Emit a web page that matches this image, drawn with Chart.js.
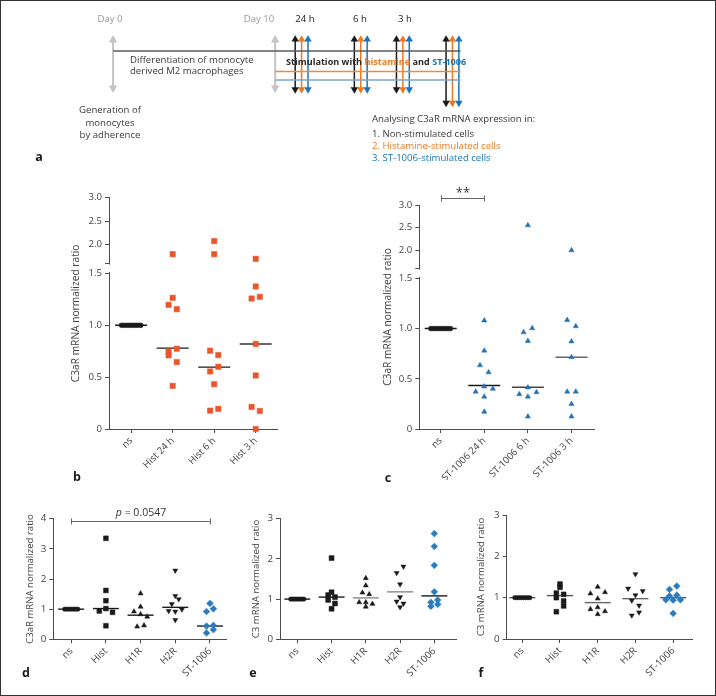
<!DOCTYPE html>
<html>
<head>
<meta charset="utf-8">
<script src="https://cdn.jsdelivr.net/npm/chart.js@4.4.1/dist/chart.umd.min.js"></script>
<style>
    html, body { margin: 0; padding: 0; background: #fff; }
    #fig { position: relative; width: 716px; height: 696px; overflow: hidden; font-family: "Open Sans", "DejaVu Sans", sans-serif; }
    #frame { position: absolute; left: 0; top: 0; width: 716px; height: 696px; box-sizing: border-box; border: 1.5px solid #333; pointer-events: none; }
    canvas { position: absolute; }
    .t { position: absolute; white-space: nowrap; font-size: 9.6px; color: #3a3a3a; line-height: 1; transform: translateY(-50%); }
    .c { transform: translate(-50%, -50%); text-align: center; }
    .lbl { position: absolute; font-size: 12.5px; font-weight: bold; color: #1a1a1a; line-height: 1; transform: translate(-50%, -50%); }
</style>
</head>
<body>
<div id="fig">
    <canvas id="chartA"></canvas>
    <canvas id="chartB"></canvas>
    <canvas id="chartC"></canvas>
    <canvas id="chartD"></canvas>
    <canvas id="chartE"></canvas>
    <canvas id="chartF"></canvas>

    <!-- textos del esquema (panel a) -->
    <div class="t c" style="left:110px;top:19px;color:#9a9a9a">Day 0</div>
    <div class="t c" style="left:259px;top:19px;color:#9a9a9a">Day 10</div>
    <div class="t c" style="left:305px;top:19px;color:#222">24 h</div>
    <div class="t c" style="left:360px;top:19px;color:#222">6 h</div>
    <div class="t c" style="left:405px;top:19px;color:#222">3 h</div>
    <div class="t" style="left:130px;top:59.5px">Differentiation of monocyte</div>
    <div class="t" style="left:130px;top:71px">derived M2 macrophages</div>
    <div class="t" style="left:286px;top:61.7px;font-weight:bold;font-size:9.1px;color:#2a2a2a">Stimulation with <span style="color:#ec7a24">histamine</span> and <span style="color:#1b75bc">ST-1006</span></div>
    <div class="t c" style="left:110px;top:110px">Generation of</div>
    <div class="t c" style="left:110px;top:122.7px">monocytes</div>
    <div class="t c" style="left:110px;top:135px">by adherence</div>
    <div class="t" style="left:372px;top:119px">Analysing C3aR mRNA expression in:</div>
    <div class="t" style="left:372px;top:134.3px">1. Non-stimulated cells</div>
    <div class="t" style="left:372px;top:146px;color:#ec7a24">2. Histamine-stimulated cells</div>
    <div class="t" style="left:372px;top:158.3px;color:#1b75bc">3. ST-1006-stimulated cells</div>

    <div class="lbl" style="left:39px;top:157px">a</div>
    <div class="lbl" style="left:77px;top:477px">b</div>
    <div class="lbl" style="left:388px;top:478px">c</div>
    <div class="lbl" style="left:26px;top:673px">d</div>
    <div class="lbl" style="left:253px;top:673px">e</div>
    <div class="lbl" style="left:481px;top:673px">f</div>
    <div id="frame"></div>
</div>

<script>
// ---- esquema (panel a) ----
const dayX = [109.6, 274];
const stimX = [294.3, 354.3, 397];
const analysisX = 447.3;
const lineEndX = 462;
const arrowTop = 32.3;
const stimBottom = 94;
const analysisBottom = 108.3;
const dayBottom = 93.3;
const timelineY = [49, 70.7, 79.7];

// ---- panel b: histamina, C3aR ----
const bCats = ['ns', 'Hist 24 h', 'Hist 6 h', 'Hist 3 h'];
const bNs = [[1, 1, 1, 1, 1, 1, 1, 1, 1]];
const bHist24 = [[1.79], [1.265], [1.197, 1.155], [0.748, 0.774], [0.71, 0.645], [0.416]];
const bHist6 = [[2.07], [1.79], [0.755, 0.713], [0.555, 0.6], [0.432], [0.177, 0.194]];
const bHist3 = [[1.69], [1.374], [1.258, 1.274], [0.82], [0.516], [0.213, 0.174], [0]];
const bMedian = [1, 0.78, 0.597, 0.82];
const bTicks = [0, 0.5, 1, 1.5, 1.6, 2, 2.5, 3];
const bTickLabels = ['0', '0.5', '1.0', '1.5', '', '2.0', '2.5', '3.0'];

// ---- panel c: ST-1006, C3aR ----
const cCats = ['ns', 'ST-1006 24 h', 'ST-1006 6 h', 'ST-1006 3 h'];
const cNs = [[1, 1, 1, 1, 1, 1, 1, 1, 1]];
const cSt24 = [[1.08], [0.78], [0.634, 0.564], [0.372, 0.423, 0.4], [0.322], [0.171]];
const cSt6 = [[2.55], [0.963, 1.003], [0.876], [0.413], [0.346, 0.322, 0.366], [0.124]];
const cSt3 = [[2.0], [1.084, 1.023], [0.872], [0.715], [0.372, 0.372], [0.248], [0.124]];
const cMedian = [1, 0.433, 0.416, 0.715];
const cTicks = bTicks;
const cTickLabels = bTickLabels;

// ---- paneles d, e, f ----
const dCats = ['ns', 'Hist', 'H1R', 'H2R', 'ST-1006'];
const dNs = [[1, 1, 1, 1, 1, 1, 1]];
const dHist = [[3.35], [1.62], [1.28], [0.94, 1.02, 0.895], [0.45]];
const dH1R = [[1.52], [1.08], [0.92, 0.83, 0.75], [0.42, 0.46]];
const dH2R = [[2.28], [1.44], [1.17, 1.33], [0.94, 0.92, 0.99], [0.64]];
const dSt = [[1.19], [0.92, 1.01], [0.44, 0.46], [0.21, 0.32]];
const dMedian = [1, 1.02, 0.8, 1.06, 0.44];
const dTicks = [0, 1, 2, 3, 4];

const eNs = [[1, 1, 1, 1, 1, 1, 1, 1]];
const eHist = [[2.02], [1.17], [1.1, 1.05], [0.98, 0.89], [0.76]];
const eH1R = [[1.52], [1.34], [1.16, 1.12], [0.92, 0.92, 0.88], [0.81]];
const eH2R = [[1.65, 1.81], [1.37], [1.05], [0.94, 0.89], [0.8]];
const eSt = [[2.63], [2.31], [1.84], [1.18], [0.92, 0.98], [0.82, 0.87]];
const eMedian = [1, 1.05, 1.03, 1.18, 1.08];
const eTicks = [0, 1, 2, 3];

const fNs = [[1, 1, 1, 1, 1, 1, 1, 1]];
const fHist = [[1.33], [1.25], [1.11, 1.08], [1.0, 0.92], [0.66, 0.8]];
const fH1R = [[1.1, 1.26, 1.13], [0.976], [0.72, 0.766, 0.67], [0.6]];
const fH2R = [[1.57], [1.22, 1.06, 1.16], [0.93, 0.81], [0.57, 0.645]];
const fSt = [[1.2, 1.28], [1.04, 1.06], [0.95, 0.94, 0.95], [0.62]];
const fMedian = [1, 1.05, 0.88, 0.976, 1.0];
const fTicks = eTicks;

const ORANGE = '#e9562c';
const BLUE = '#2371b3';
const BLUE_D = '#2a7cc1';
const BLACK = '#1a1a1a';
const AXIS = '#4d4d4d';

Chart.defaults.font.family = '"Open Sans", "DejaVu Sans", sans-serif';
Chart.defaults.animation = false;
Chart.defaults.responsive = false;
Chart.defaults.plugins.legend.display = false;
Chart.defaults.plugins.tooltip.enabled = false;

// eje con corte: 0-1.5 normal, 1.6-3.0 comprimido
function brokenAxis(v) {
    return v <= 1.5 ? v : 1.6 + (v - 1.6) * 0.45;
}

// filas de puntos lado a lado (como GraphPad)
function rowsToPoints(rows, idx, stepCat, spanCat, tf) {
    const pts = [];
    rows.forEach(row => {
        const n = row.length;
        const s = n > 1 ? Math.min(stepCat, spanCat / (n - 1)) : 0;
        row.forEach((v, k) => pts.push({ x: idx + (k - (n - 1) / 2) * s, y: tf(v) }));
    });
    return pts;
}

// linea de significancia
const sigPlugin = {
    id: 'sig',
    afterDraw(chart, args, opts) {
        if (!opts.pairs) return;
        const { ctx, scales: { x, y } } = chart;
        ctx.save();
        opts.pairs.forEach(p => {
            const x1 = Math.round(x.getPixelForValue(p.from)) + 0.5;
            const x2 = Math.round(x.getPixelForValue(p.to)) + 0.5;
            const yy = Math.round(y.getPixelForValue(p.at)) + 0.5;
            ctx.strokeStyle = '#666';
            ctx.lineWidth = 1;
            ctx.beginPath();
            ctx.moveTo(x1, yy - 3); ctx.lineTo(x1, yy + 3);
            ctx.moveTo(x1, yy); ctx.lineTo(x2, yy);
            ctx.moveTo(x2, yy - 3); ctx.lineTo(x2, yy + 3);
            ctx.stroke();
            // texto en partes (p en cursiva)
            const fonts = p.parts.map(pt => (pt.italic ? 'italic ' : '') + p.size + 'px "Open Sans", sans-serif');
            let w = 0;
            p.parts.forEach((pt, i) => { ctx.font = fonts[i]; w += ctx.measureText(pt.t).width; });
            let cx = (x1 + x2) / 2 - w / 2;
            ctx.fillStyle = '#333';
            ctx.textBaseline = 'middle';
            ctx.textAlign = 'left';
            p.parts.forEach((pt, i) => {
                ctx.font = fonts[i];
                ctx.fillText(pt.t, cx, yy - p.lift);
                cx += ctx.measureText(pt.t).width;
            });
        });
        ctx.restore();
    }
};

// borra el eje entre 1.5 y 1.6
const breakPlugin = {
    id: 'axisBreak',
    afterDraw(chart, args, opts) {
        if (!opts.gap) return;
        const { ctx, chartArea, scales: { y } } = chart;
        const yLo = y.getPixelForValue(opts.gap[0]);
        const yHi = y.getPixelForValue(opts.gap[1]);
        ctx.save();
        ctx.fillStyle = '#fff';
        ctx.fillRect(chartArea.left - 2, yHi + 1.5, 4, yLo - yHi - 3);
        ctx.restore();
    }
};

function dotPlot(id, g, cfg) {
    const canvas = document.getElementById(id);
    canvas.width = g.W;
    canvas.height = g.H;
    canvas.style.left = g.L + 'px';
    canvas.style.top = g.T + 'px';

    const lh = cfg.titleSize * 1.2;
    const padLeft = g.titleX - g.L - lh / 2;
    const yW = g.ax - g.L - padLeft;
    const xH = g.T + g.H - g.bottom;
    const pxPerCat = (g.right - g.ax) / (g.xMax - g.xMin);
    const tf = cfg.tf || (v => v);

    const datasets = cfg.groups.map((rows, i) => ({
        data: rowsToPoints(rows, i, g.step / pxPerCat, g.span / pxPerCat, tf),
        pointStyle: cfg.shapes[i],
        pointRotation: cfg.rotations[i],
        pointRadius: cfg.sizes[i],
        pointBackgroundColor: cfg.colors[i],
        pointBorderColor: cfg.colors[i],
        pointBorderWidth: 0.5,
        clip: false
    }));
    datasets.push({
        data: cfg.medians.map((m, i) => ({ x: i, y: tf(m) })),
        pointStyle: 'line',
        pointRadius: g.medHalf,
        pointBorderColor: cfg.medianColors,
        pointBorderWidth: 1.4,
        clip: false
    });

    return new Chart(canvas, {
        type: 'scatter',
        data: { datasets },
        options: {
            layout: { padding: { left: padLeft, top: g.top - g.T, right: g.L + g.W - g.right, bottom: 0 } },
            scales: {
                x: {
                    type: 'linear', min: g.xMin, max: g.xMax,
                    afterBuildTicks: s => { s.ticks = cfg.cats.map((c, i) => ({ value: i })); },
                    afterFit: s => { s.height = xH; },
                    ticks: { callback: (v, i) => cfg.cats[i], minRotation: 45, maxRotation: 45, autoSkip: false, color: '#444', font: { size: cfg.tickSize }, padding: 2 },
                    grid: { display: true, drawOnChartArea: false, drawTicks: true, tickLength: 4, color: AXIS },
                    border: { display: true, color: AXIS, width: 1 }
                },
                y: {
                    type: 'linear', min: 0, max: tf(cfg.yTicks[cfg.yTicks.length - 1]),
                    afterBuildTicks: s => { s.ticks = cfg.yTicks.map(v => ({ value: tf(v) })); },
                    afterFit: s => { s.width = yW; },
                    ticks: { callback: (v, i) => cfg.yLabels[i], color: '#444', font: { size: cfg.tickSize }, padding: 3 },
                    grid: { display: true, drawOnChartArea: false, drawTicks: true, tickLength: 4, color: AXIS },
                    border: { display: true, color: AXIS, width: 1 },
                    title: { display: true, text: cfg.title, color: '#444', font: { size: cfg.titleSize }, padding: 0 }
                }
            },
            plugins: {
                sig: { pairs: cfg.sig },
                axisBreak: { gap: cfg.gap }
            }
        },
        plugins: [sigPlugin, breakPlugin]
    });
}

// ---- esquema con Chart.js (unidades = pixeles) ----
function initScheme() {
    const canvas = document.getElementById('chartA');
    canvas.width = 716;
    canvas.height = 170;
    canvas.style.left = '0px';
    canvas.style.top = '0px';

    const colors = ['#1b1b1b', '#ec7a24', '#1b75bc'];
    const ds = [];
    const seg = (x1, y1, x2, y2, color, w) => ds.push({
        data: [{ x: x1, y: y1 }, { x: x2, y: y2 }], showLine: true, borderColor: color, borderWidth: w, pointRadius: 0, clip: false
    });
    const heads = (x, top, bottom, color, r) => ds.push({
        data: [{ x, y: top + r }, { x, y: bottom - r }], pointStyle: 'triangle', pointRotation: [0, 180],
        pointRadius: r, pointBackgroundColor: color, pointBorderColor: color, pointBorderWidth: 0, clip: false
    });

    seg(dayX[0], timelineY[0], lineEndX, timelineY[0], '#5a5a5a', 1.5);
    seg(dayX[1], timelineY[1], lineEndX, timelineY[1], '#ef8a3c', 1.5);
    seg(dayX[1], timelineY[2], lineEndX, timelineY[2], '#79a6cc', 1.5);

    dayX.forEach(x => {
        seg(x, arrowTop + 4, x, dayBottom - 4, '#c4c4c4', 2);
        heads(x, arrowTop, dayBottom, '#c4c4c4', 5);
    });

    const drawTrio = (x0, bottom) => colors.forEach((col, k) => {
        const x = x0 + k * 6.5;
        seg(x, arrowTop + 4, x, bottom - 4, col, 1.5);
        heads(x, arrowTop, bottom, col, 4.3);
    });
    stimX.forEach(x => drawTrio(x, stimBottom));
    drawTrio(analysisX, analysisBottom);

    new Chart(canvas, {
        type: 'scatter',
        data: { datasets: ds },
        options: {
            layout: { padding: 0 },
            scales: {
                x: { type: 'linear', min: 0, max: 716, display: false },
                y: { type: 'linear', min: 0, max: 170, reverse: true, display: false }
            }
        }
    });
}

document.addEventListener('DOMContentLoaded', () => {
    initScheme();

    const c3aR = 'C3aR mRNA normalized ratio';
    const c3 = 'C3 mRNA normalized ratio';

    dotPlot('chartB',
        { L: 40, T: 180, W: 255, H: 300, ax: 109, top: 197.7, bottom: 429, right: 281.7, titleX: 76, xMin: -0.534, xMax: 3.527, step: 8.4, span: 20, medHalf: 16 },
        {
            cats: bCats, groups: [bNs, bHist24, bHist6, bHist3], medians: bMedian,
            shapes: ['circle', 'rect', 'rect', 'rect'], rotations: [0, 0, 0, 0], sizes: [2.4, 3.8, 3.8, 3.8],
            colors: [BLACK, ORANGE, ORANGE, ORANGE], medianColors: [BLACK, BLACK, BLACK, '#333'],
            yTicks: bTicks, yLabels: bTickLabels, tf: brokenAxis, gap: [1.5, 1.6],
            title: c3aR, titleSize: 10.2, tickSize: 9.6
        });

    dotPlot('chartC',
        { L: 350, T: 175, W: 262, H: 305, ax: 419.3, top: 205, bottom: 429, right: 596.7, titleX: 388.3, xMin: -0.49, xMax: 3.53, step: 8.7, span: 20, medHalf: 16 },
        {
            cats: cCats, groups: [cNs, cSt24, cSt6, cSt3], medians: cMedian,
            shapes: ['circle', 'triangle', 'triangle', 'triangle'], rotations: [0, 0, 0, 0], sizes: [2.4, 3, 3, 3],
            colors: [BLACK, BLUE, BLUE, BLUE], medianColors: [BLACK, BLACK, '#444', '#666'],
            yTicks: cTicks, yLabels: cTickLabels, tf: brokenAxis, gap: [1.5, 1.6],
            title: c3aR, titleSize: 10.2, tickSize: 9.6,
            sig: [{ from: 0, to: 1, at: brokenAxis(3.16), parts: [{ t: '**' }], size: 13, lift: 5 }]
        });

    dotPlot('chartD',
        { L: 5, T: 500, W: 236, H: 190, ax: 53.3, top: 518.7, bottom: 639.3, right: 237, titleX: 30, xMin: -0.517, xMax: 4.48, step: 7.3, span: 14, medHalf: 13 },
        {
            cats: dCats, groups: [dNs, dHist, dH1R, dH2R, dSt], medians: dMedian,
            shapes: ['circle', 'rect', 'triangle', 'triangle', 'rectRot'], rotations: [0, 0, 0, 180, 0], sizes: [2.2, 3.4, 2.9, 2.9, 3.4],
            colors: [BLACK, BLACK, BLACK, BLACK, BLUE_D], medianColors: [BLACK, BLACK, BLACK, BLACK, BLACK],
            yTicks: dTicks, yLabels: dTicks.map(String),
            title: c3aR, titleSize: 9.6, tickSize: 9.8,
            sig: [{ from: 0, to: 4, at: 3.93, parts: [{ t: 'p', italic: true }, { t: ' = 0.0547' }], size: 10.5, lift: 8 }]
        });

    dotPlot('chartE',
        { L: 245, T: 500, W: 226, H: 190, ax: 280, top: 518.7, bottom: 639.3, right: 466.7, titleX: 256.7, xMin: -0.505, xMax: 4.65, step: 7.2, span: 14, medHalf: 13 },
        {
            cats: dCats, groups: [eNs, eHist, eH1R, eH2R, eSt], medians: eMedian,
            shapes: ['circle', 'rect', 'triangle', 'triangle', 'rectRot'], rotations: [0, 0, 0, 180, 0], sizes: [2.2, 3.5, 2.9, 2.9, 3.4],
            colors: [BLACK, BLACK, BLACK, BLACK, BLUE_D], medianColors: [BLACK, BLACK, '#888', '#888', BLACK],
            yTicks: eTicks, yLabels: eTicks.map(String),
            title: c3, titleSize: 9.6, tickSize: 9.8
        });

    dotPlot('chartF',
        { L: 472, T: 500, W: 236, H: 190, ax: 506.7, top: 515, bottom: 639, right: 692, titleX: 481, xMin: -0.413, xMax: 4.5, step: 7.3, span: 15, medHalf: 13 },
        {
            cats: dCats, groups: [fNs, fHist, fH1R, fH2R, fSt], medians: fMedian,
            shapes: ['circle', 'rect', 'triangle', 'triangle', 'rectRot'], rotations: [0, 0, 0, 180, 0], sizes: [2.2, 3.4, 2.9, 2.9, 3.4],
            colors: [BLACK, BLACK, BLACK, BLACK, BLUE_D], medianColors: ['#555', '#555', '#666', '#666', '#555'],
            yTicks: fTicks, yLabels: fTicks.map(String),
            title: c3, titleSize: 9.6, tickSize: 9.8
        });
});
</script>
</body>
</html>
